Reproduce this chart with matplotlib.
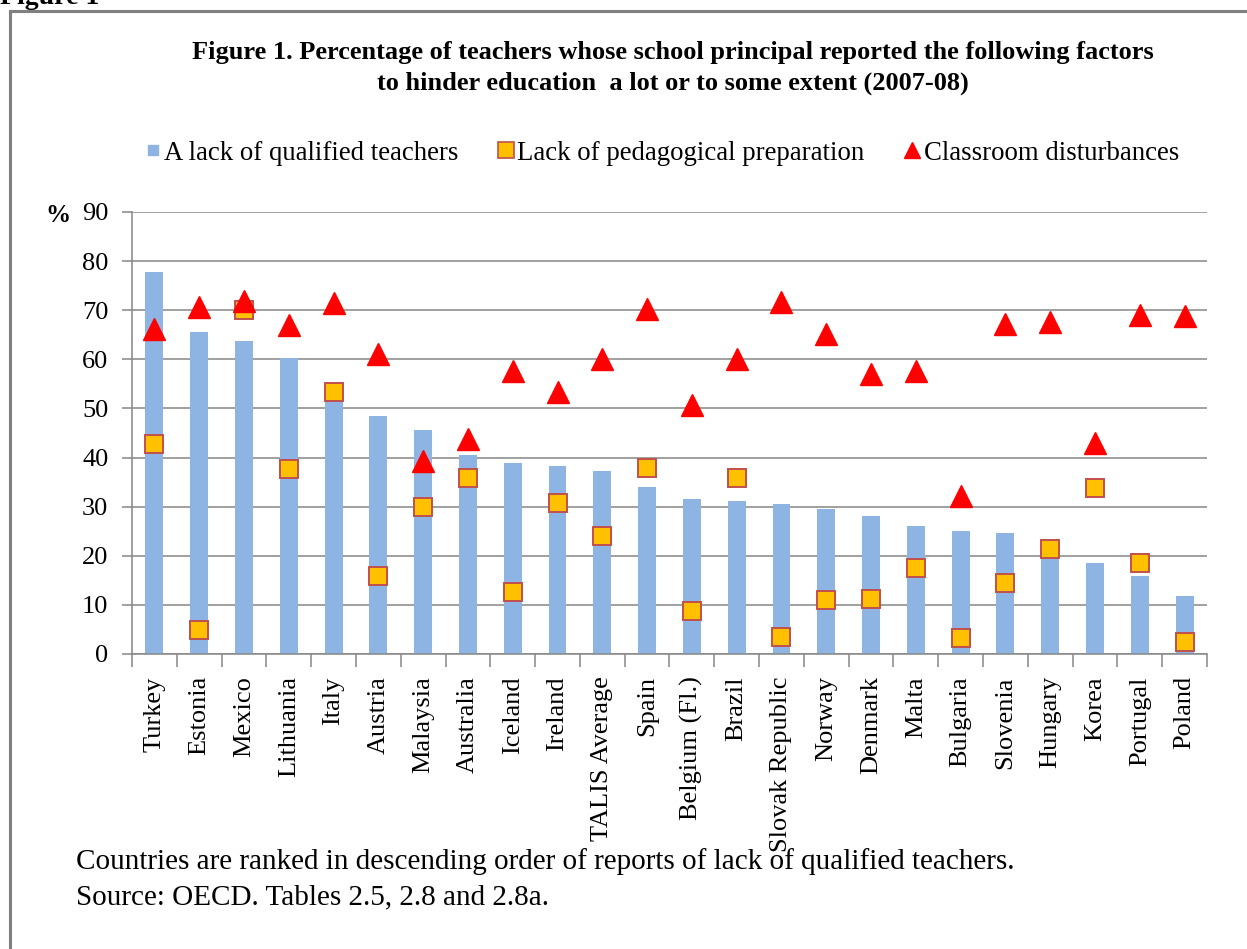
import numpy as np
import matplotlib
matplotlib.use('Agg')
import matplotlib.pyplot as plt
from matplotlib.lines import Line2D

plt.rcParams['font.family'] = ['Liberation Serif', 'DejaVu Serif']

countries = ['Turkey', 'Estonia', 'Mexico', 'Lithuania', 'Italy', 'Austria', 'Malaysia',
             'Australia', 'Iceland', 'Ireland', 'TALIS Average', 'Spain', 'Belgium (Fl.)',
             'Brazil', 'Slovak Republic', 'Norway', 'Denmark', 'Malta', 'Bulgaria',
             'Slovenia', 'Hungary', 'Korea', 'Portugal', 'Poland']
# lack of qualified teachers (bars)
qualified = [77.8, 65.6, 63.7, 60.3, 52.0, 48.5, 45.6, 40.5, 38.9, 38.3, 37.3, 34.1,
             31.6, 31.2, 30.5, 29.5, 28.1, 26.1, 25.0, 24.6, 20.0, 18.5, 15.9, 11.8]
# lack of pedagogical preparation (squares)
pedagogical = [42.7, 4.9, 70.0, 37.7, 53.3, 15.9, 30.0, 35.8, 12.6, 30.7, 24.1, 37.9,
               8.8, 35.8, 3.5, 11.0, 11.2, 17.6, 3.3, 14.5, 21.4, 33.8, 18.5, 2.4]
# classroom disturbances (triangles)
disturbances = [66.2, 70.7, 71.8, 66.9, 71.5, 61.1, 39.3, 43.8, 57.7, 53.4, 60.0, 70.2,
                50.6, 60.0, 71.6, 65.1, 57.1, 57.7, 32.1, 67.1, 67.6, 43.0, 69.0, 68.9]

series_names = ['A lack of qualified teachers', 'Lack of pedagogical preparation',
                'Classroom disturbances']

title = ('Figure 1. Percentage of teachers whose school principal reported the following factors\n'
         'to hinder education  a lot or to some extent (2007-08)')
note1 = 'Countries are ranked in descending order of reports of lack of qualified teachers.'
note2 = 'Source: OECD. Tables 2.5, 2.8 and 2.8a.'

bar_col = '#8EB4E3'
sq_col = '#FFC000'
sq_edge = '#C0504D'
tri_col = '#FF0000'
grid_col = '#868686'

W, H = 1247, 949
fig = plt.figure(figsize=(W / 100, H / 100), dpi=100)
ax = fig.add_axes([132 / W, 1 - 654 / H, (1207 - 132) / W, (654 - 212) / H])

x = np.arange(len(countries))
ax.bar(x, qualified, width=0.4, color=bar_col, zorder=2)
ax.plot(x, pedagogical, 's', ms=13.2, mfc=sq_col, mec=sq_edge, mew=1.4, zorder=3)
ax.plot(x, disturbances, '^', ms=16, color=tri_col, mec=tri_col, zorder=4)

ax.set_xlim(-0.5, len(countries) - 0.5)
ax.set_ylim(0, 90)
ax.set_yticks(np.arange(0, 91, 10))
ax.yaxis.grid(True, color=grid_col, lw=1.1, zorder=0)
ax.set_axisbelow(True)
ax.set_xticks(x)
ax.set_xticklabels(countries, rotation=90, fontsize=19)
ax.set_xticks(np.arange(-0.5, len(countries)), minor=True)
ax.tick_params(axis='x', which='major', length=0, pad=16)
ax.tick_params(axis='x', which='minor', length=9, color=grid_col, width=1.1)
ax.tick_params(axis='y', length=7, color=grid_col, width=1.1, labelsize=19, pad=10)
for s in ['top', 'right']:
    ax.spines[s].set_visible(False)
for s in ['left', 'bottom']:
    ax.spines[s].set_color(grid_col)
    ax.spines[s].set_linewidth(1.1)

fig.text(45 / W, 1 - 216 / H, '%', fontsize=18, fontweight='bold', va='center')

fig.text(673 / W, 1 - 68 / H, title, ha='center', va='center', fontsize=19,
         fontweight='bold', linespacing=1.45)

handles = [
    Line2D([], [], ls='none', marker='s', ms=7, mfc=bar_col, mec=bar_col),
    Line2D([], [], ls='none', marker='s', ms=11, mfc=sq_col, mec=sq_edge, mew=1.2),
    Line2D([], [], ls='none', marker='^', ms=12, color=tri_col),
]
fig.legend(handles, series_names, loc='center', bbox_to_anchor=(662 / W, 1 - 153 / H),
           ncol=3, frameon=False, fontsize=19.3, handlelength=0.55, handletextpad=0.15,
           columnspacing=1.5)

fig.text(76 / W, 1 - 862 / H, note1, fontsize=21, va='center')
fig.text(76 / W, 1 - 897 / H, note2, fontsize=21, va='center')

# outer frame and the heading cut off at the top edge
fig.add_artist(Line2D([10 / W, 10 / W], [0, 1 - 11 / H], color='#808080', lw=2.2))
fig.add_artist(Line2D([10 / W, 1], [1 - 11 / H, 1 - 11 / H], color='#808080', lw=2.2))
fig.text(0, 1 - 4 / H, 'Figure 1', fontsize=20, fontweight='bold', va='baseline')

fig.savefig('out.png', dpi=100)
